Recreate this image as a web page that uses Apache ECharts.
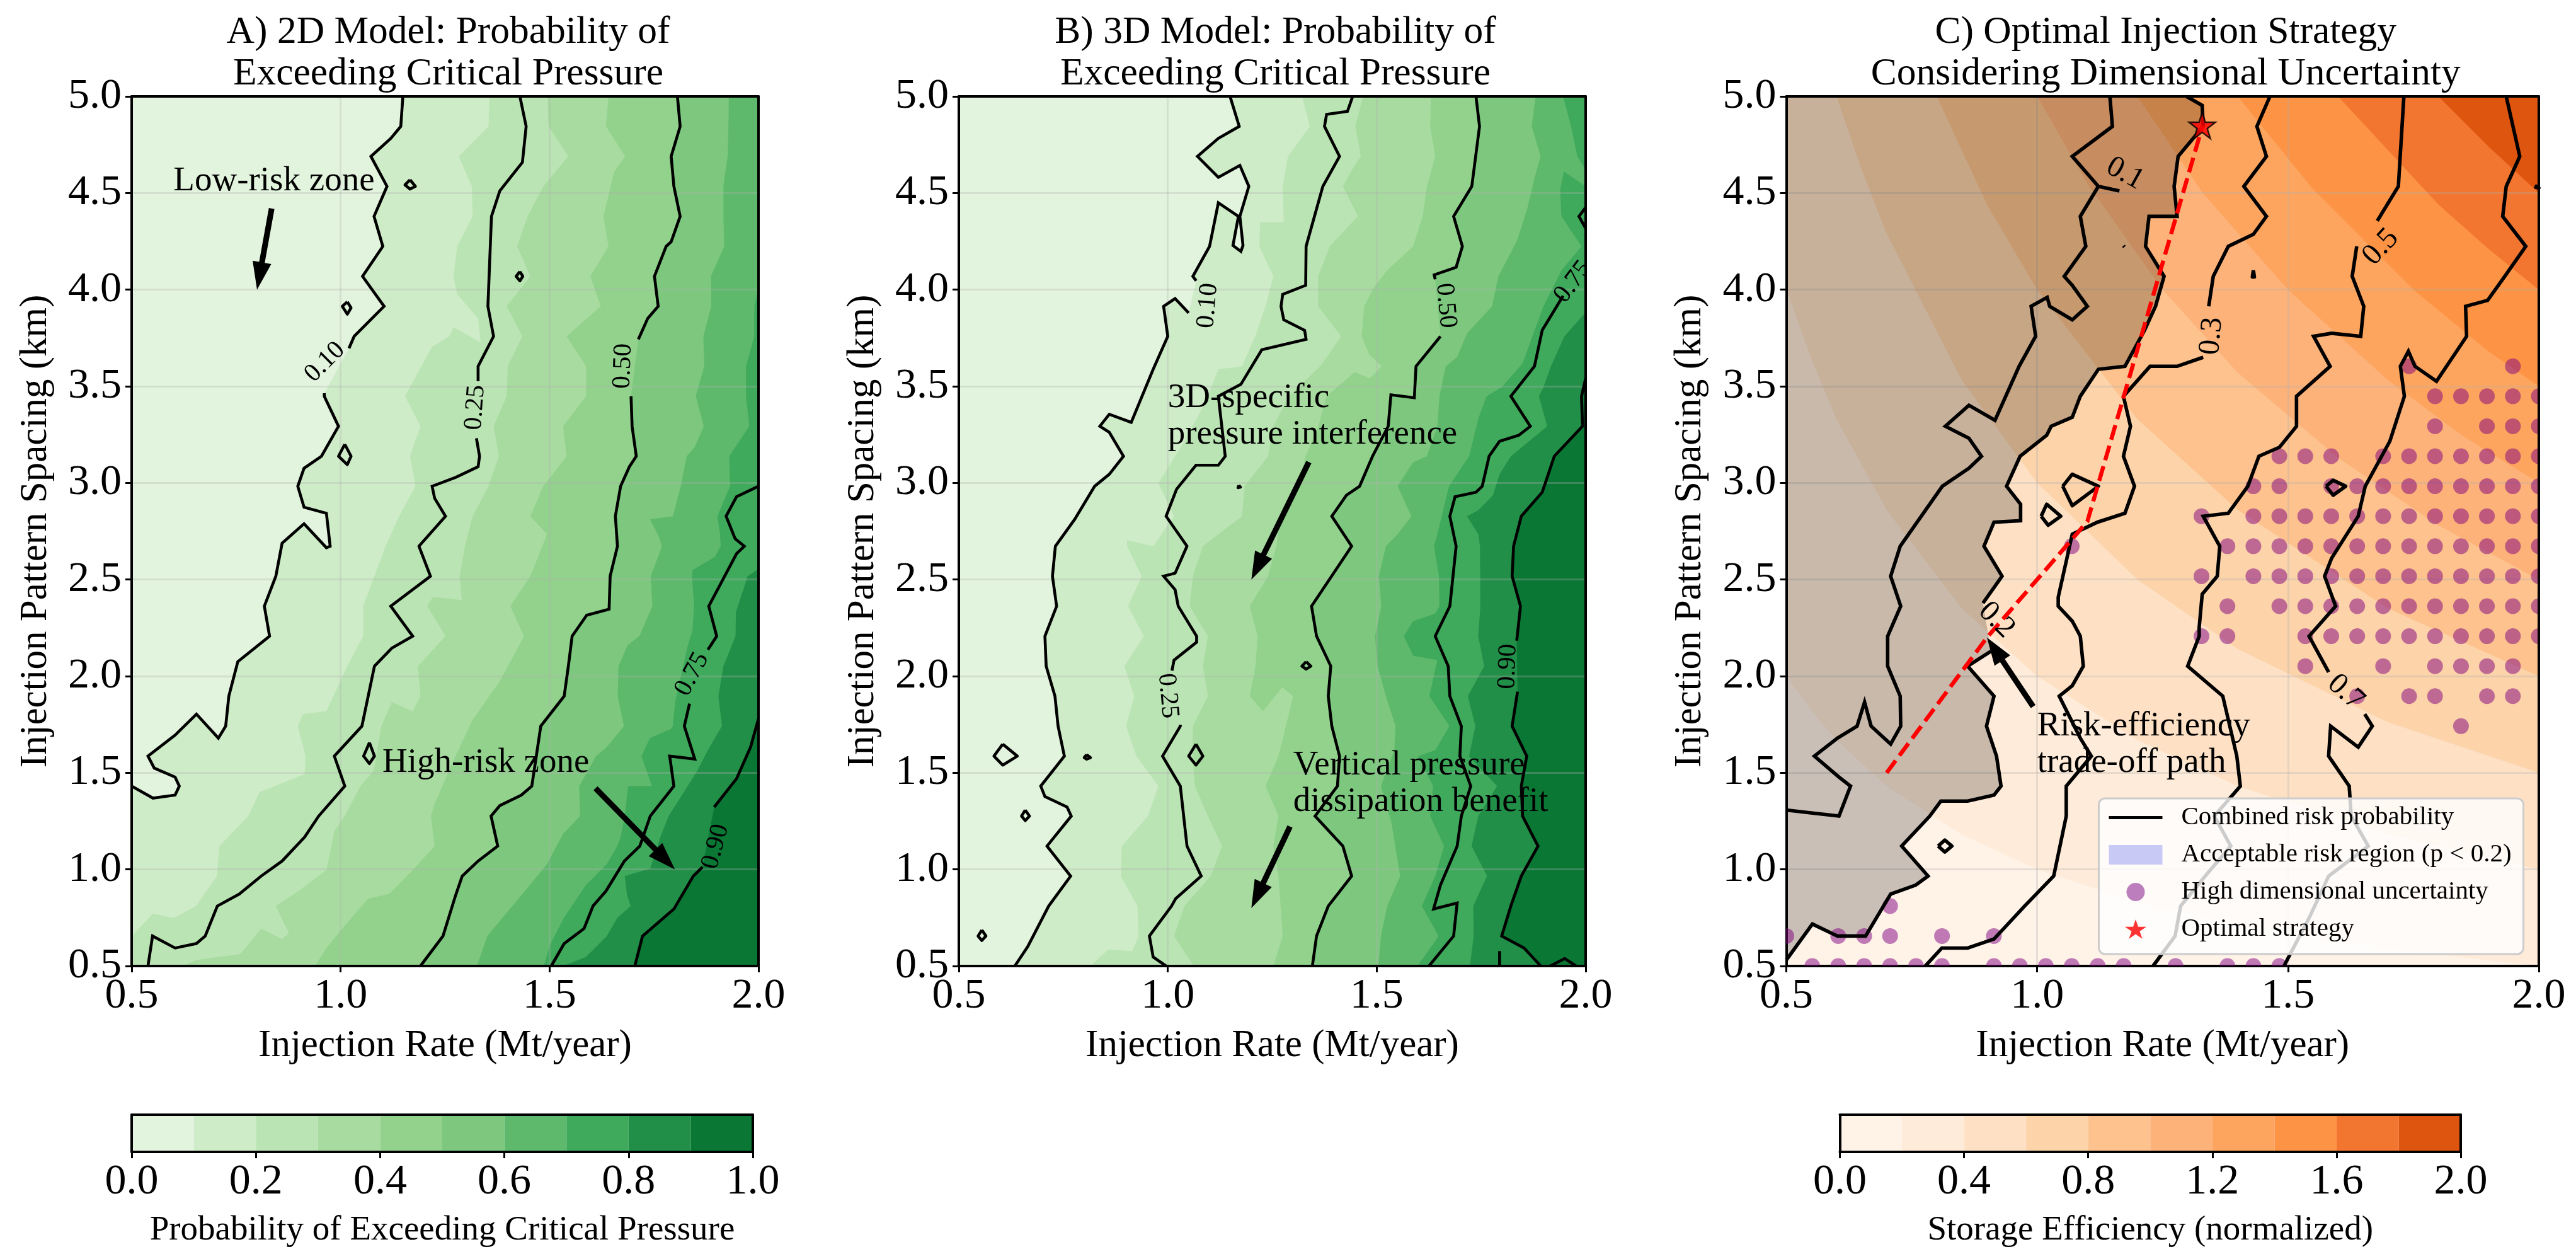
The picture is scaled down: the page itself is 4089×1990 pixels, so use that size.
<!DOCTYPE html>
<html><head><meta charset="utf-8">
<style>html,body{margin:0;padding:0;background:#fff}#c{width:4089px;height:1990px}</style>
<script src="https://cdn.jsdelivr.net/npm/echarts@6/dist/echarts.min.js"></script>
</head><body><div id="c"></div>
<script>
// Contours are [rate, rowIndex] on the 30-row spacing grid (row 0 = 5.0 km, row 29 = 0.5 km); null = label gap.
const A10=[[1.149,0],[1.144,1],[1.12,1.4],[1.0725,2],[1.111,3],[1.08,4],[1.101,5],[1.0525,6],[1.104,7],[1.0325,8],[1.02,8.4],null,[.961,9.9],[.961,10],[.995,11],[.954,12],[.9125,12.4],[.8975,13],[.9125,13.7],[.966,13.9],[.975,15],[.966,15.05],[.9125,14.25],[.86,14.9],[.845,16],[.8175,17],[.83,18],[.754,18.85],[.7325,20],[.725,21],[.7075,21.4],[.655,20.6],[.604,21.3],[.539,22],[.554,22.4],[.604,22.7],[.614,23],[.604,23.3],[.551,23.4],[.5,23]];
const A25=[[1.429,0],[1.444,1],[1.435,2.2],[1.381,3.15],[1.361,4],[1.3525,7],[1.366,8],[1.329,9],[1.329,9.5],null,[1.325,11.4],[1.3325,12],[1.329,12.35],[1.276,12.7],[1.219,13],[1.225,13.4],[1.251,14],[1.1875,15],[1.215,16],[1.12,17],[1.1725,18],[1.1225,18.4],[1.081,19],[1.051,21],[.985,22],[1.01,23],[.9475,24],[.914,24.7],[.86,25.5],[.81,26],[.7575,26.6],[.705,27],[.676,28],[.655,28.25],[.604,28.4],[.55,28],[.539,29]];
const A50=[[1.806,0],[1.8125,1],[1.791,2],[1.7975,3],[1.8125,4],[1.791,4.85],[1.779,5],[1.751,6],[1.76,7],[1.735,7.4],[1.7125,8.1],null,[1.695,10],[1.6975,11],[1.7075,12],[1.691,12.35],[1.67,13],[1.6575,14],[1.6625,15],[1.645,16],[1.6425,17.1],[1.589,17.3],[1.554,18],[1.545,19],[1.535,20],[1.479,21],[1.4575,23],[1.4325,23.3],[1.381,23.65],[1.36,24],[1.376,25],[1.329,25.5],[1.291,26],[1.275,26.65],[1.245,28],[1.191,29]];
const A75=[[2,13],[1.9475,13.35],[1.9225,14],[1.944,14.75],[1.966,15],[1.9475,15.25],[1.881,17],[1.9,18],[1.879,18.45],null,[1.835,20.25],[1.8225,21],[1.8475,22.1],[1.7875,22],[1.7975,23],[1.741,24],[1.716,25],[1.679,25.5],[1.635,26.5],[1.604,27],[1.5825,27.75],[1.535,28.25],[1.504,29]];
const A90=[[2,20.75],[1.981,21.7],[1.9475,22.75],[1.894,23.7],null,[1.866,25.7],[1.844,26],[1.7975,27.1],[1.7225,28],[1.704,29]];
const A20=[[1.356,0],[1.354,1],[1.2825,2],[1.314,3],[1.316,4],[1.279,5],[1.27,6],[1.279,6.6],[1.329,7.4],[1.335,8.2],[1.29,7.85],[1.27,7.7],[1.26,8],[1.219,8.35],[1.154,10],[1.191,11],[1.166,12],[1.179,13],[1.14,14],[1.1075,15],[1.054,17],[1.054,18],[1.016,19],[.966,20.5],[.91,20.6],[.8975,21],[.916,22],[.914,22.6],[.806,23.2],[.779,24],[.71,25],[.704,26],[.654,27],[.601,27.4],[.551,27.25],[.5,28]];
const A30=[[1.495,0],[1.4975,1],[1.545,2],[1.485,3],[1.4475,4],[1.4225,5],[1.454,6],[1.3975,7],[1.435,8],[1.4,9],[1.3975,10],[1.366,11],[1.379,12],[1.354,13],[1.316,14],[1.2975,15],[1.285,16],[1.29,16.8],[1.26,16.75],[1.22,16.7],[1.2075,17],[1.251,18],[1.185,19],[1.191,20],[1.1725,20.5],[1.1225,20.2],[1.0975,21],[1.079,22.5],[1.0475,23],[1.01,24],[.985,24.5],[.966,25.8],[.904,26.45],[.845,27],[.876,27.9],[.86,28.1],[.81,27.75],[.76,28.6],[.654,28.8],[.6225,29]];
const A40=[[1.641,0],[1.635,1],[1.681,2],[1.655,2.5],[1.629,4],[1.641,5],[1.5975,6],[1.6225,7],[1.541,8],[1.5875,9],[1.5875,10],[1.5325,11],[1.541,12],[1.485,13],[1.454,14],[1.494,14.6],[1.454,16],[1.406,17],[1.439,18],[1.381,19.5],[1.3156,20.8],[1.27,22.15],[1.225,23.6],[1.216,24],[1.225,25],[1.166,25.9],[1.116,26.6],[1.066,26.75],[1.035,27.25],[1.004,27.75],[.966,28.4],[.939,29]];
const A60=[[1.929,0],[1.928,1],[1.926,2],[1.916,3],[1.916,4],[1.918,5],[1.886,6],[1.887,7],[1.868,8],[1.87,9],[1.85,10],[1.869,11],[1.847,11.7],[1.828,12],[1.814,13],[1.795,14],[1.74,14.1],[1.759,14.6],[1.769,15],[1.742,16],[1.746,17],[1.715,18],[1.687,18.3],[1.665,19],[1.663,20],[1.678,21],[1.637,21.7],[1.611,22],[1.571,23],[1.573,24],[1.532,24.6],[1.494,25.6],[1.429,26.7],[1.381,27.5],[1.351,28],[1.326,29]];
const A70=[[2,6.4],[1.99,7],[1.99,8],[1.97,9],[1.97,10],[1.978,11],[1.93,12],[1.932,13],[1.9015,14],[1.908,14.6],[1.9096,15],[1.896,15.35],[1.842,15.8],[1.841,16],[1.846,17],[1.842,17.8],[1.831,18.3],[1.8005,20.2],[1.795,21],[1.79,21.1],[1.74,21.4],[1.72,22],[1.745,23],[1.688,23],[1.68,24],[1.67,24.7],[1.662,25],[1.637,25.6],[1.587,26.3],[1.534,27.4],[1.501,28.3],[1.486,29]];
const A80=[[2,15.75],[1.974,16],[1.946,17.2],[1.945,18],[1.916,19],[1.904,20],[1.9126,21],[1.883,21.7],[1.853,22.5],[1.785,24],[1.765,24.7],[1.741,25.75],[1.68,26],[1.685,26.6],[1.694,27],[1.662,27.4],[1.637,28],[1.587,28.7],[1.5317,29]];
const Aloops=[[[1.166,2.78],[1.179,3],[1.166,3.09],[1.154,2.95],[1.166,2.78]],[[1.016,6.85],[1.025,7.05],[1.016,7.26],[1.004,7],[1.016,6.85]],[[1.01,11.6],[1.025,12],[1.016,12.28],[.995,12],[1.01,11.6]],[[1.429,5.84],[1.436,6],[1.429,6.15],[1.42,6],[1.429,5.84]],[[1.069,21.55],[1.081,22],[1.069,22.25],[1.055,22],[1.069,21.55]]];

const B10=[[1.149,0],[1.171,1],[1.121,1.4],[1.071,2],[1.121,2.7],[1.1725,2.3],[1.194,3],[1.1725,4],[1.18,4.97],[1.175,5.17],[1.156,4.97],[1.169,4],[1.121,3.55],[1.1,5],[1.06,6],[1.068,6.15],null,[1.05,7.22],[1.0175,6.74],[.99,7],[1,8],[.965,9.1],[.9125,10.87],[.86,10.6],[.8375,11],[.86,11.2],[.894,12],[.86,12.6],[.825,13],[.7775,14.1],[.731,15],[.724,16],[.734,17],[.706,18],[.709,19],[.73,20],[.7375,21],[.7525,22],[.696,23],[.706,23.35],[.759,23.7],[.769,24],[.711,25],[.7675,26],[.715,27],[.665,28.35],[.634,29]];
const B25=[[1.4425,0],[1.43,.5],[1.38,.6],[1.375,1],[1.411,2],[1.371,3],[1.331,5],[1.33,6.3],[1.275,6.6],[1.271,7],[1.2775,7.45],[1.3275,7.8],[1.331,8.1],[1.225,8.45],[1.175,9.6],[1.121,10],[1.1375,12],[1.121,12.3],[1.0675,12.3],[1.021,13.1],[.996,14],[1.046,15],[1.0175,15.9],[.99,16],[1.0175,16.45],[1.025,17],[1.069,18],[1.069,18.2],[1.015,18.8],[1.01,19.15],null,[1.03,20.95],[1.03,21],[.9875,22],[1.03,23],[1.046,25],[1.08,26],[1.019,26.75],[1.009,27],[.956,28],[.965,28.7],[.996,29]];
const B50=[[1.7375,0],[1.746,1],[1.7275,3],[1.684,4],[1.705,5],[1.69,5.7],[1.6375,5.95],[1.64,6.1],null,[1.6525,8],[1.594,9],[1.59,10.05],[1.534,9.95],[1.5275,11],[1.49,12],[1.459,13],[1.4275,13.3],[1.3925,14],[1.44,15],[1.344,17],[1.356,18],[1.39,19],[1.384,20],[1.3925,21],[1.411,22],[1.406,23],[1.3525,24],[1.419,25],[1.44,26],[1.384,27],[1.356,28],[1.346,29]];
const B75=[[1.946,6.65],[1.896,7.8],[1.8775,9],[1.821,10],[1.8675,11],[1.84,11.3],[1.794,11.5],[1.769,12],[1.7525,13],[1.7375,13.2],[1.6875,13.35],[1.675,14],[1.69,15],[1.675,17],[1.64,18],[1.671,19],[1.675,20],[1.7025,21],[1.699,22],[1.725,23],[1.7025,24],[1.6925,25],[1.6525,26.3],[1.636,27.1],[1.6925,26.9],[1.684,28],[1.625,29]];
const B75b=[[2,3.7],[1.984,4],[2,4.4]];
const B90=[[2,9.4],[1.99,10],[1.9925,11],[1.925,12],[1.896,13.2],[1.846,14],[1.8275,15],[1.824,16],[1.844,17],[1.835,18.15],null,[1.837,19.85],[1.824,21],[1.859,22],[1.846,23],[1.849,24],[1.886,25],[1.846,26],[1.821,27],[1.799,28],[1.8525,28.4],[1.8925,29]];
const B90b=[[1.794,28.5],[1.794,29]];
const B90c=[[1.915,29],[1.95,28.75],[1.977,29]];
const B20=[[1.321,0],[1.34,1],[1.2875,2],[1.275,3],[1.2775,4.2],[1.221,4.2],[1.219,5],[1.2525,6],[1.234,7],[1.209,8],[1.1775,9],[1.121,9.1],[1.09,10.2],[1.04,11.5],[.9775,12.9],[1.015,14],[.965,15],[.9025,14.8],[.9025,15],[.9375,16],[.905,17],[.9425,18],[.896,19],[.92,20],[.9,21],[.925,22],[.9775,23],[.9525,24],[.89,25],[.8875,26],[.9275,27],[.93,28],[.915,28.5],[.8575,28.45],[.815,29]];
const B30=[[1.467,0],[1.449,1],[1.462,2],[1.447,2.3],[1.419,3],[1.455,4],[1.3875,5],[1.36,6],[1.36,7],[1.415,8],[1.365,9],[1.29,10],[1.2525,11],[1.24,12],[1.184,13],[1.1775,14],[1.084,15],[1.06,16],[1.0525,17],[1.096,18],[1.084,19],[1.096,20],[1.06,21],[1.059,22],[1.065,23],[1.096,24],[1.13,25],[1.1025,26],[1.04,27],[1.015,28],[1.0625,29]];
const B40=[[1.63,0],[1.628,1],[1.64,2],[1.62,3],[1.61,4],[1.587,5],[1.525,5.8],[1.492,6.4],[1.47,7],[1.464,8],[1.482,8.6],[1.512,9],[1.484,9.4],[1.447,9.2],[1.38,10],[1.36,11],[1.33,12],[1.31,13],[1.27,14],[1.26,15],[1.24,16],[1.196,17],[1.215,18],[1.21,19],[1.196,20],[1.2275,20.5],[1.274,19.7],[1.3,20],[1.265,22],[1.234,23],[1.265,24],[1.2525,25],[1.265,26],[1.27,27],[1.275,28],[1.2525,29]];
const B60=[[1.88,0],[1.871,1],[1.892,2],[1.877,2.75],[1.861,3.7],[1.836,4.8],[1.791,6],[1.776,7],[1.716,7.9],[1.692,8.7],[1.665,9],[1.65,10],[1.645,11],[1.62,12],[1.587,12.2],[1.55,13],[1.583,14],[1.55,14.6],[1.522,15],[1.505,16],[1.511,17],[1.496,18],[1.502,19],[1.522,20],[1.545,21],[1.542,21.8],[1.51,23],[1.535,24.2],[1.556,26],[1.525,27],[1.51,28],[1.504,29]];
const B70=[[1.946,0],[1.965,1],[1.98,2],[2,2.45],[2,3],[1.948,2.5],[1.939,3.1],[1.942,4],[1.99,5],[1.942,5.8],[1.899,7],[1.849,8.9],[1.799,9.7],[1.763,10],[1.743,10.75],[1.721,12],[1.673,13],[1.645,14.6],[1.637,15],[1.649,16],[1.65,17],[1.64,17.25],[1.587,17.5],[1.565,18],[1.587,18.65],[1.645,18.8],[1.626,20],[1.674,21],[1.64,21.8],[1.599,22],[1.635,23],[1.628,24],[1.661,25],[1.64,26],[1.608,27],[1.648,28],[1.598,29]];
const B80=[[2,7.2],[1.949,8],[1.917,9],[1.899,9.7],[1.888,10],[1.908,11],[1.821,12],[1.794,12.6],[1.778,13.3],[1.743,13.8],[1.716,14],[1.743,14.6],[1.747,15],[1.748,17],[1.743,18],[1.757,19],[1.718,20],[1.736,21],[1.721,22],[1.788,23],[1.743,24],[1.727,25],[1.764,26],[1.731,27],[1.732,28],[1.723,29]];
const Bloops=[[[.605,21.6],[.64,22],[.605,22.3],[.584,22],[.605,21.6]],[[.659,23.8],[.669,24],[.659,24.15],[.65,24],[.659,23.8]],[[.555,27.8],[.565,28],[.555,28.15],[.546,28],[.555,27.8]],[[.806,21.95],[.815,22.05],[.806,22.1],[.8,22.05],[.806,21.95]],[[1.0675,21.6],[1.084,22],[1.0675,22.3],[1.05,22],[1.0675,21.6]],[[1.331,18.85],[1.3425,19],[1.331,19.1],[1.321,19],[1.331,18.85]],[[1.17,12.97],[1.174,13.03],[1.168,13.05],[1.17,12.97]]];

const C10=[[1.145,0],[1.15,1],[1.07,2],[1.122,3],[1.164,3.15],null,[1.122,3],[1.086,4],[1.097,5],[1.054,6],[1.07,6.3],[1.1,7],[1.07,7.45],[1.025,7],[1.02,6.7],[.988,7],[.997,8],[.964,9],[.916,10.8],[.864,10.3],[.817,11],[.864,11.4],[.889,12],[.864,12.4],[.811,13],[.727,15],[.708,16],[.728,17],[.702,18],[.702,19],[.727,20],[.728,21],[.708,21.6],[.669,21],[.656,20.2],[.641,21],[.602,21.4],[.556,22],[.605,22.7],[.628,23],[.605,24],[.552,23.9],[.5,23.8]];
const C20=[[1.2975,0],[1.329,.3],[1.331,1],[1.281,2],[1.273,3],[1.279,4],[1.223,4],[1.216,5],[1.253,6],[1.236,7],[1.214,7.8],[1.175,9],[1.122,9.1],[1.086,10],[1.07,10.7],[1.028,11],[1.019,11.3],[.966,12],[.939,13],[.967,13.6],[.967,14.15],[.914,14.2],[.894,15],[.93,16],[.892,16.9],null,[.908,18.5],[.8615,19],[.914,20],[.899,21],[.919,22],[.928,23],[.914,23.3],[.8615,23.5],[.808,23.5],[.786,24],[.73,25],[.7825,26],[.758,26.3],[.708,26.6],[.658,28],[.602,28],[.552,27.6],[.5,28.8]];
const C30=[[1.464,0],[1.438,1],[1.457,2],[1.412,3],[1.457,4],[1.431,4.6],[1.381,5],[1.351,6],[1.342,7],null,[1.331,8.7],[1.279,9],[1.225,9],[1.172,10],[1.186,11],[1.172,12],[1.194,13],[1.175,13.9],[1.12,14.2],[1.07,14.6],[1.042,16.7],[1.042,17],[1.07,17.5],[1.086,18],[1.092,19],[1.07,19.65],[1.044,20],[1.086,21.4],[1.108,22],[1.058,23],[1.058,24],[1.033,26],[.975,27],[.914,28.1],[.8615,28.4],[.81,28.4],[.777,29]];
const C50=[[1.731,0],[1.72,3],[1.678,4.15],null,[1.637,5],[1.628,6],[1.651,7],[1.645,8],[1.587,7.9],[1.551,8],[1.584,9],[1.517,10],[1.517,11],[1.483,11.7],[1.442,12],[1.42,13],[1.381,13.9],[1.331,14],[1.364,15],[1.359,16],[1.329,16.6],[1.323,17.7],[1.323,18],[1.3,19],[1.37,20],[1.398,22],[1.405,23],[1.353,24],[1.386,25],[1.34,25.9],[1.286,27],[1.275,28],[1.231,29]];
const C70=[[1.935,0],[1.962,2],[1.935,3],[1.928,4],[1.974,5],[1.932,6],[1.898,6.8],[1.854,7],[1.856,8],[1.796,9.5],[1.753,9],[1.74,8.5],[1.724,9],[1.732,10],[1.703,11.5],[1.654,13],[1.64,14],[1.587,15.4],[1.573,16],[1.595,17],[1.542,18],[1.581,19.2],null,[1.653,20.6],[1.668,21],[1.64,21.7],[1.585,21],[1.581,22],[1.622,23],[1.626,24],[1.66,25],[1.581,26],[1.542,27.4],[1.492,29]];
const Cloops=[[[1.051,13],[1.07,12.6],[1.122,13],[1.07,13.65],[1.051,13]],[[1.008,14],[1.019,13.6],[1.047,14],[1.022,14.3],[1.008,14]],[[1.576,13],[1.59,12.8],[1.615,13],[1.59,13.3],[1.576,13]],[[.8026,25],[.816,24.8],[.83,25],[.816,25.2],[.8026,25]],[[1.172,4.98],[1.174,5.02],[1.17,5.02],[1.172,4.98]],[[1.431,5.8],[1.433,6.02],[1.429,6.02],[1.431,5.8]],[[1.997,2.95],[2,3.05],[1.994,3.03],[1.997,2.95]]];

// Storage-efficiency band edges for panel C, as [rate, spacing]
const E02=[[.5,2],[.55,1.82],[.6,1.67],[.7,1.43],[.85,1.18],[1,1],[1.2,.83],[1.4,.71],[1.7,.59],[2,.5]];
const E04=[[.5,4],[.55,3.64],[.6,3.33],[.7,2.86],[.85,2.35],[1,2],[1.2,1.67],[1.4,1.43],[1.7,1.18],[2,1]];
const E06=[[.6,5],[.65,4.62],[.7,4.29],[.85,3.53],[1,3],[1.2,2.5],[1.4,2.14],[1.7,1.76],[2,1.5]];
const E08=[[.8,5],[.9,4.44],[1,4],[1.2,3.33],[1.4,2.86],[1.7,2.35],[2,2]];
const E10=[[1,5],[1.1,4.55],[1.25,4],[1.4,3.57],[1.6,3.13],[1.8,2.78],[2,2.5]];
const E12=[[1.2,5],[1.33,4.5],[1.5,4],[1.7,3.53],[1.85,3.24],[2,3]];
const E14=[[1.4,5],[1.55,4.52],[1.75,4],[1.9,3.68],[2,3.5]];
const E16=[[1.6,5],[1.8,4.44],[1.9,4.21],[2,4]];
const E18=[[1.8,5],[1.9,4.74],[2,4.5]];

// Rows of the spacing grid and the rate-grid columns with high dimensional uncertainty
const dotRows=[[9,[24,28]],[10,[25,26,27,28,29]],[11,[25,27,28,29]],[12,[19,20,21,23,24,25,26,27,28,29]],[13,[18,19,21,22,23,24,25,26,27,28,29]],[14,[16,18,19,20,21,22,23,24,25,26,27,28,29]],[15,[11,17,18,19,20,21,22,23,24,25,26,27,28,29]],[16,[16,18,19,20,21,22,23,24,25,26,27,28,29]],[17,[17,19,20,21,22,23,24,25,26,27,28,29]],[18,[16,17,20,21,22,23,24,25,26,27,28,29]],[19,[20,23,25,26,27,28]],[20,[22,24,25,27,28]],[21,[26]],[27,[4]],[28,[0,2,3,4,6,8]],[29,[1,2,3,4,5,6,8,9,10,11,12,13,15,17,18,19]]];
const tradeoffPath=[[.7,1.5],[.9,2.2],[1.1,2.8],[1.33,4.85]];
const optimal=[1.329,4.85];

const arrowsA=[[.835,4.42,.8,4.0],[1.61,1.42,1.8,1.0]];
const arrowsB=[[1.3375,3.108,1.2,2.5],[1.2925,1.222,1.2,.8]];
const arrowsC=[[.992,1.843,.9,2.2]];
const notesA=[[.6,4.56,'Low-risk zone'],[1.1,1.553,'High-risk zone']];
const notesB=[[1,3.44,'3D-specific'],[1,3.25,'pressure interference'],[1.3,1.54,'Vertical pressure'],[1.3,1.349,'dissipation benefit']];
const notesC=[[1,1.74,'Risk-efficiency'],[1,1.553,'trade-off path']];
const labelsA=[[.9625,3.625,'0.10',45],[1.3225,3.39,'0.25',86],[1.676,3.604,'0.50',88],[1.841,2.01,'0.75',62],[1.8975,1.118,'0.90',75]];
const labelsB=[[1.096,3.917,'0.10',85],[1,1.898,'0.25',-85],[1.665,3.917,'0.50',-85],[1.97,4.04,'0.75',53],[1.814,2.05,'0.90',88]];
const labelsC=[[1.175,4.6,'0.1',-29],[1.348,3.76,'0.3',85],[1.685,4.22,'0.5',47],[.919,2.29,'0.2',-45],[1.615,1.916,'0.7',-42]];

const greens=['#e2f4dd','#cfecc8','#bbe4b4','#a8dba0','#92d28d','#7dc87e','#5fb96c','#3fa95c','#228f48','#0a7735'];
const oranges=['#fff3e8','#feebd9','#fee1c5','#fdd3a9','#fdc28d','#fdb27a','#fda55e','#fd9344','#f27630','#de5510'];
const titles=['A) 2D Model: Probability of\nExceeding Critical Pressure','B) 3D Model: Probability of\nExceeding Critical Pressure','C) Optimal Injection Strategy\nConsidering Dimensional Uncertainty'];
const xName='Injection Rate (Mt/year)', yName='Injection Pattern Spacing (km)';
const cbNames=['Probability of Exceeding Critical Pressure','Storage Efficiency (normalized)'];

const FONT='"Liberation Serif"';
const yr=r=>5-r*4.5/29;
const toXY=l=>l.map(p=>p?[p[0],yr(p[1])]:null);
const solid=l=>l.filter(Boolean);

const panels=[{l:209,w:995,bg:greens[0]},{l:1522,w:995,bg:greens[0]},{l:2835.5,w:1194.5,bg:oranges[0]}];
const T=153,H=1380;
const cbs=[{l:209,w:986,max:1,int:.2,c:greens},{l:2920.5,w:985.5,max:2,int:.4,c:oranges}];

const grid=[],xAxis=[],yAxis=[],series=[],title=[];
const sp={lineStyle:{color:'rgba(176,176,176,0.3)',width:3}};
const spine={show:true,onZero:false,lineStyle:{color:'#000',width:4}};
panels.forEach((p,i)=>{
  grid.push({left:p.l,top:T,width:p.w,height:H,show:true,backgroundColor:p.bg,borderWidth:0});
  xAxis.push({type:'value',gridIndex:i,min:.5,max:2,interval:.5,position:'bottom',z:2,name:xName,nameLocation:'middle',nameGap:96,nameTextStyle:{fontFamily:FONT,fontSize:61,color:'#000'},axisLine:spine,axisTick:{show:true,length:10,lineStyle:{color:'#000',width:3}},axisLabel:{fontFamily:FONT,fontSize:68,color:'#000',margin:14,formatter:v=>v.toFixed(1)},splitLine:{show:true,...sp}});
  yAxis.push({type:'value',gridIndex:i,min:.5,max:5,interval:.5,position:'left',z:2,name:yName,nameLocation:'middle',nameGap:122,nameRotate:90,nameTextStyle:{fontFamily:FONT,fontSize:61,color:'#000'},axisLine:spine,axisTick:{show:true,length:10,lineStyle:{color:'#000',width:3}},axisLabel:{fontFamily:FONT,fontSize:68,color:'#000',margin:16,formatter:v=>v.toFixed(1)},splitLine:{show:true,...sp}});
  title.push({text:titles[i],left:p.l+p.w/2,top:14,textAlign:'center',textStyle:{fontFamily:FONT,fontSize:61.5,fontWeight:'normal',color:'#000',lineHeight:66}});
});
cbs.forEach((c,k)=>{
  const g=3+k;
  grid.push({left:c.l,top:1769,width:c.w,height:59,show:false});
  xAxis.push({type:'value',gridIndex:g,min:0,max:c.max,interval:c.int,position:'bottom',z:8,name:cbNames[k],nameLocation:'middle',nameGap:97,nameTextStyle:{fontFamily:FONT,fontSize:55,color:'#000'},axisLine:spine,axisTick:{show:true,length:10,lineStyle:{color:'#000',width:3}},axisLabel:{fontFamily:FONT,fontSize:68,color:'#000',margin:14,formatter:v=>v.toFixed(1)},splitLine:{show:false}});
  yAxis.push({type:'value',gridIndex:g,min:0,max:1,position:'left',z:8,axisLine:spine,axisTick:{show:false},axisLabel:{show:false},splitLine:{show:false}});
});
// mirror spines on top/right
[0,1,2,3,4].forEach(g=>{
  const isP=g<3;
  xAxis.push({type:'value',gridIndex:g,min:isP?.5:0,max:isP?2:cbs[g-3].max,position:'top',z:8,axisLine:spine,axisTick:{show:false},axisLabel:{show:false},splitLine:{show:false}});
  yAxis.push({type:'value',gridIndex:g,min:isP?.5:0,max:isP?5:1,position:'right',z:8,axisLine:spine,axisTick:{show:false},axisLabel:{show:false},splitLine:{show:false}});
});

function poly(pts,color,g,z,name){
  series.push({type:'custom',name,coordinateSystem:'cartesian2d',xAxisIndex:g,yAxisIndex:g,z,silent:true,clip:true,data:[pts[0]],
    renderItem:(p,api)=>({type:'polygon',shape:{points:pts.map(q=>api.coord(q))},style:{fill:color}})});
}
function band(list,color,g){
  const pts=solid(list);const last=pts[pts.length-1];
  const extra=last[0]<=.5?[[.5,.5]]:[];
  poly(pts.concat(extra,[[2,.5],[2,5]]),color,g,1);
}
function line(list,g,w,name,join){
  series.push({type:'line',name,xAxisIndex:g,yAxisIndex:g,z:4,symbol:'none',showSymbol:false,connectNulls:false,silent:true,clip:true,
    lineStyle:{color:'#000',width:w,join:join||'miter',cap:'butt'},itemStyle:{color:'#000'},data:list.map(p=>p||['-','-'])});
}
function arrows(list,g){
  series.push({type:'custom',xAxisIndex:g,yAxisIndex:g,z:7,silent:true,data:list,
    renderItem:(p,api)=>{
      const a=api.coord([api.value(0),api.value(1)]),b=api.coord([api.value(2),api.value(3)]);
      const dx=b[0]-a[0],dy=b[1]-a[1],L=Math.hypot(dx,dy),ux=dx/L,uy=dy/L,nx=-uy,ny=ux;
      const hl=44,hw=15,sw=4.5,bx=b[0]-ux*hl,by=b[1]-uy*hl;
      return {type:'polygon',shape:{points:[[a[0]+nx*sw,a[1]+ny*sw],[bx+nx*sw,by+ny*sw],[bx+nx*hw,by+ny*hw],b,[bx-nx*hw,by-ny*hw],[bx-nx*sw,by-ny*sw],[a[0]-nx*sw,a[1]-ny*sw]]},style:{fill:'#000'}};
    }});
}
function texts(list,g,size,rotating){
  series.push({type:'custom',xAxisIndex:g,yAxisIndex:g,z:7,silent:true,clip:rotating,data:list.map(r=>[r[0],r[1]]),
    renderItem:(p,api)=>{
      const r=list[p.dataIndex],c=api.coord([r[0],r[1]]);
      return {type:'text',x:c[0],y:c[1],rotation:rotating?r[3]*Math.PI/180:0,
        style:{text:r[2],x:0,y:0,fill:'#000',font:size+'px '+FONT,align:rotating?'center':'left',verticalAlign:'middle'}};
    }});
}

// Panel A
[[A10,1],[A20,2],[A30,3],[A40,4],[A50,5],[A60,6],[A70,7],[A80,8],[A90,9]].forEach(([l,i])=>band(toXY(l),greens[i],0));
[A10,A25,A50,A75,A90].forEach(l=>line(toXY(l),0,4.6));
Aloops.forEach(l=>line(toXY(l),0,4.6,undefined,'round'));
arrows(arrowsA,0);texts(notesA,0,55,false);texts(labelsA,0,41,true);
// Panel B
[[B10,1],[B20,2],[B30,3],[B40,4],[B50,5],[B60,6],[B70,7],[B80,8],[B90,9]].forEach(([l,i])=>band(toXY(l),greens[i],1));
[B10,B25,B50,B75,B75b,B90,B90b,B90c].forEach(l=>line(toXY(l),1,4.6));
Bloops.forEach(l=>line(toXY(l),1,4.6,undefined,'round'));
arrows(arrowsB,1);texts(notesB,1,55,false);texts(labelsB,1,41,true);
// Panel C
[[E02,1],[E04,2],[E06,3],[E08,4],[E10,5],[E12,6],[E14,7],[E16,8],[E18,9]].forEach(([l,i])=>poly(l.concat([[2,5],[.5,5]]),oranges[i],2,1));
poly(solid(toXY(C20)).concat([[.5,5]]),'rgba(0,0,0,0.21)',2,2,'Acceptable risk region (p < 0.2)');
const dots=[];dotRows.forEach(([r,cols])=>cols.forEach(c=>dots.push([.5+c*1.5/29,yr(r)])));
series.push({type:'custom',name:'High dimensional uncertainty',xAxisIndex:2,yAxisIndex:2,z:3,silent:true,clip:true,data:dots,
  renderItem:(p,api)=>{const c=api.coord([api.value(0),api.value(1)]);return {type:'circle',shape:{cx:c[0],cy:c[1],r:12.5},style:{fill:'rgba(128,0,128,0.5)'}};}});
line(toXY(C10),2,5.6,'Combined risk probability');
[C20,C30,C50,C70].forEach(l=>line(toXY(l),2,5.6));
Cloops.forEach(l=>line(toXY(l),2,5.6,undefined,'round'));
series.push({type:'line',xAxisIndex:2,yAxisIndex:2,z:5,symbol:'none',silent:true,lineStyle:{color:'#f00',width:6.5,type:[24,10]},data:tradeoffPath});
const starPath='path://M50,0L61.2,34.5L97.6,34.5L68.2,55.9L79.4,90.5L50,69.1L20.6,90.5L31.8,55.9L2.4,34.5L38.8,34.5Z';
series.push({type:'scatter',name:'Optimal strategy',xAxisIndex:2,yAxisIndex:2,z:6,silent:true,clip:false,symbol:starPath,symbolSize:42,itemStyle:{color:'#f00',borderColor:'#000',borderWidth:2.5},data:[optimal]});
arrows(arrowsC,2);texts(notesC,2,55,false);texts(labelsC,2,48,true);
// Colorbars
cbs.forEach((c,k)=>{
  const s=c.max/10;
  c.c.forEach((col,i)=>poly([[i*s,0],[(i+1)*s,0],[(i+1)*s,1],[i*s,1]],col,3+k,1));
});

const box='M0,0L0,0M85,31L85,31';
const legend={show:true,left:3331.5,top:1267,orient:'vertical',selectedMode:false,z:100,padding:[10,19,19,16],itemWidth:85,itemHeight:31,itemGap:18,
  backgroundColor:'rgba(255,255,255,0.8)',borderColor:'#ccc',borderWidth:3,borderRadius:10,
  textStyle:{fontFamily:FONT,fontSize:41,color:'#000',padding:[0,0,0,25]},
  data:[
   {name:'Combined risk probability',icon:'path://'+box+'M0,13L85,13L85,18L0,18Z',itemStyle:{color:'#000'},lineStyle:{width:0,opacity:0}},
   {name:'Acceptable risk region (p < 0.2)',icon:'rect',itemStyle:{color:'#c9c9f5'}},
   {name:'High dimensional uncertainty',icon:'path://'+box+'M28,15.5A14.5,14.5 0 1 1 57,15.5A14.5,14.5 0 1 1 28,15.5Z',itemStyle:{color:'rgb(188,126,188)',opacity:1,borderWidth:0}},
   {name:'Optimal strategy',icon:'path://'+box+'M42.5,0L46.5,11.7L59.6,11.7L49,19L53.1,30.8L42.5,23.5L31.9,30.8L36,19L25.4,11.7L38.5,11.7Z',itemStyle:{color:'#f00',borderWidth:0}}
  ]};

const chart=echarts.init(document.getElementById('c'),null,{renderer:'canvas'});
chart.setOption({animation:false,backgroundColor:'#fff',title,grid,xAxis,yAxis,series,legend,tooltip:{show:false}});
</script></body></html>
